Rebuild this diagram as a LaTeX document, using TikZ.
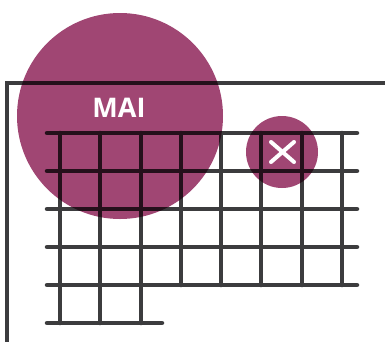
\documentclass[tikz,border=0pt]{standalone}
\usepackage{fontspec}
\newfontfamily\labelfont{Open Sans}
\definecolor{plum}{HTML}{A04673}
\definecolor{ink}{HTML}{3C3C3E}
\begin{document}
\begin{tikzpicture}[
		x=1pt, y=-1pt,
		g/.style = {draw=ink, line width=4.5pt, line cap=round},
		f/.style = {draw=ink, line width=4pt, line join=miter},
		c/.style = {circle, fill=plum, inner sep=0pt},
		w/.style = {draw=white, line width=4pt, line cap=round}
		]
		\useasboundingbox (0, 0) rectangle (385, 341);
		
		% === === Frame === ===
		\draw[f]	(386, 83) -- (7, 83) -- (7, 342);
		
		% === === Grid === ===
		\draw[g]	(47, 133)	--	(357, 133);
		\draw[g]	(47, 171)	--	(357, 171);
		\draw[g]	(47, 209)	--	(357, 209);
		\draw[g]	(47, 247)	--	(357, 247);
		\draw[g]	(47, 285)	--	(357, 285);
		\draw[g]	(47, 323)	--	(162, 323);
		
		\draw[g]	(60, 133)	--	(60, 323);
		\draw[g]	(100, 133)	--	(100, 323);
		\draw[g]	(141, 133)	--	(141, 323);
		\draw[g]	(181, 133)	--	(181, 285);
		\draw[g]	(221, 133)	--	(221, 285);
		\draw[g]	(261, 133)	--	(261, 285);
		\draw[g]	(302, 133)	--	(302, 285);
		\draw[g]	(342, 133)	--	(342, 285);
		
		% === === Circles === ===
		\begin{scope}[blend mode=multiply]
		\node[c, minimum size=206pt]	(mai)	at	(120, 116)		{};
		\node[c, minimum size=72pt]		(cross)	at	(282, 152)		{};
		\end{scope}
		
		% === === Labels === ===
		\node[text=white, font=\labelfont\bfseries\fontsize{27}{27}\selectfont]	(mai-txt)	at	(119, 108)	{MAI};
		\draw[w]	(271, 142)	--	(294, 162);
		\draw[w]	(271, 162)	--	(294, 142);
		
	\end{tikzpicture}
\end{document}
